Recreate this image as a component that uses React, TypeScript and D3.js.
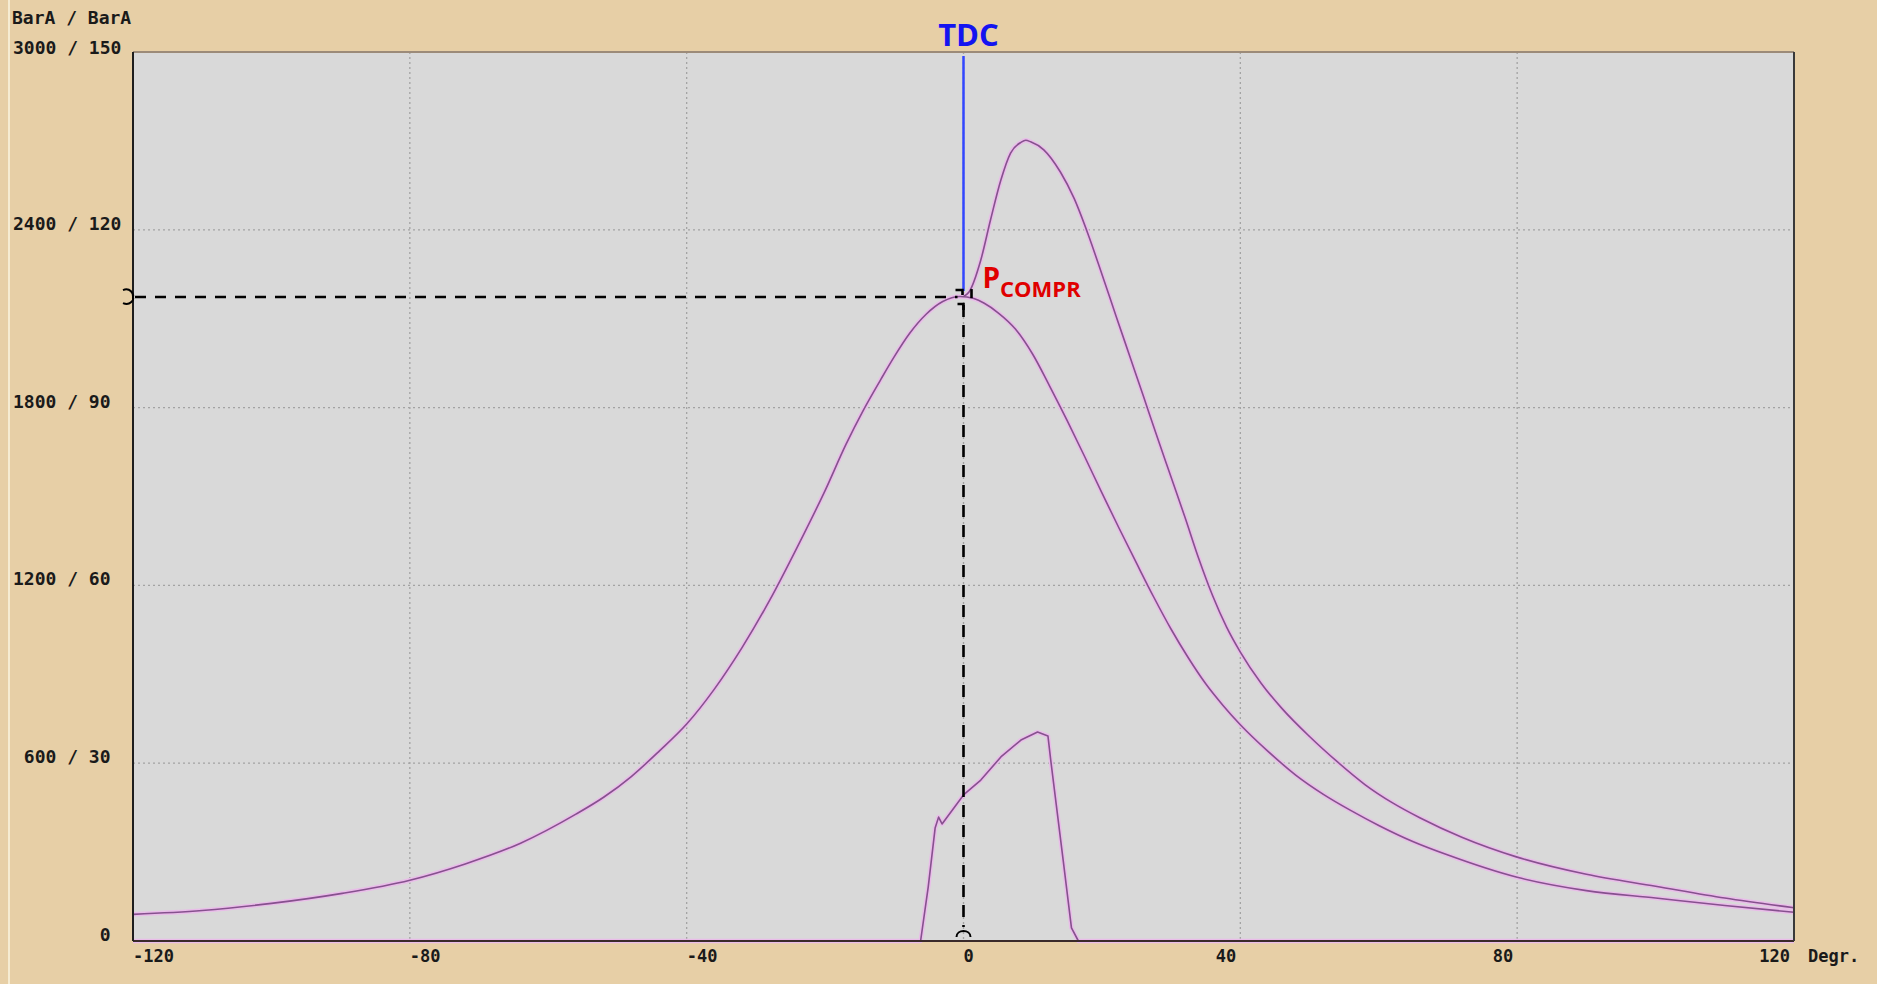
import React, { useRef, useEffect } from 'react';
import * as d3 from 'd3';

// crank angle ticks (degrees) and pressure ticks (bar)
const xTicks = [-120, -80, -40, 0, 40, 80, 120];
const xGrid = [-80, -40, 0, 40, 80];
const yTicks = [0, 600, 1200, 1800, 2400, 3000];
const yTickLabels = ['        0', ' 600 / 30', '1200 / 60', '1800 / 90', '2400 / 120', '3000 / 150'];

// compression (motored) pressure curve
const compression: [number, number][] = [
  [-120, 90], [-110, 103], [-100, 127], [-90, 160], [-80, 205], [-72, 260], [-64, 330],
  [-56, 428], [-52, 485], [-48, 555], [-44, 640], [-40, 732], [-36, 850], [-32, 990],
  [-28, 1150], [-24, 1330], [-20, 1520], [-17, 1675], [-14.5, 1790], [-12, 1893], [-10, 1972],
  [-7.8, 2050], [-5.4, 2115], [-3, 2158], [-0.5, 2175], [1.5, 2168], [3, 2152], [5, 2120],
  [7.5, 2065], [10, 1980], [12.5, 1870], [15, 1755], [17.5, 1635], [20, 1512], [22.5, 1392],
  [25, 1275], [27.5, 1160], [30, 1052], [32.5, 955], [35, 868], [37.5, 795], [40, 730],
  [44, 640], [48, 560], [52, 495], [56, 440], [60, 390], [65, 335], [70, 290], [80, 215],
  [90, 170], [100, 145], [110, 120], [120, 97],
];

// firing pressure curve (leaves compression at TDC)
const firing: [number, number][] = [
  [0, 2175], [0.8, 2190], [2.5, 2298], [3.9, 2433], [5.4, 2568], [6.8, 2659], [8.3, 2695],
  [9, 2702], [9.7, 2697], [11.6, 2670], [14, 2595], [16, 2505], [18, 2385], [20, 2250],
  [22, 2112], [24, 1975], [26, 1838], [28, 1700], [30, 1565], [32, 1430], [34, 1290],
  [36, 1165], [38, 1060], [40, 975], [43, 870], [46, 785], [50, 690], [54, 605], [58, 528],
  [62, 466], [66, 415], [72, 350], [80, 283], [90, 225], [100, 185], [110, 145], [120, 112],
];

// small trace near TDC
const injection: [number, number][] = [
  [-120, 0], [-6.2, 0], [-5.1, 182], [-4.1, 381], [-3.6, 418], [-3.1, 395], [0, 493],
  [2.5, 543], [5.4, 621], [8.3, 678], [10.7, 705], [12.2, 692], [12.6, 611], [14.4, 273],
  [15.6, 44], [16.6, 0], [120, 0],
];

const pCompr = 2173;

function App() {
  const ref = useRef<SVGSVGElement>(null);

  useEffect(() => {
    const W = 1877;
    const H = 984;
    const left = 133, right = 1794, top = 52, bottom = 941;
    const mono = '"DejaVu Sans Mono", monospace';
    const sans = '"Open Sans", "Noto Sans", sans-serif';

    const svg = d3.select(ref.current);
    svg.selectAll('*').remove();
    svg.attr('width', W).attr('height', H);

    svg.append('rect').attr('width', W).attr('height', H).attr('fill', '#e7cfa6');
    svg.append('rect').attr('x', 8).attr('y', 0).attr('width', 2).attr('height', H).attr('fill', '#f6ecd2');

    const x = d3.scaleLinear().domain([-120, 120]).range([left, right]);
    const y = d3.scaleLinear().domain([0, 3000]).range([bottom, top]);

    svg.append('rect')
      .attr('x', left).attr('y', top)
      .attr('width', right - left).attr('height', bottom - top)
      .attr('fill', '#d9d9d9');

    // grid
    const grid = svg.append('g').attr('stroke', '#a3a3a3').attr('stroke-width', 1.3).attr('stroke-dasharray', '2,3');
    grid.selectAll('.gy').data(yTicks.slice(1, -1)).enter().append('line')
      .attr('x1', left).attr('x2', right)
      .attr('y1', d => y(d)).attr('y2', d => y(d));
    grid.selectAll('.gx').data(xGrid).enter().append('line')
      .attr('x1', d => x(d)).attr('x2', d => x(d))
      .attr('y1', top).attr('y2', bottom);

    // curves
    const smooth = d3.line<[number, number]>().x(d => x(d[0])).y(d => y(d[1])).curve(d3.curveMonotoneX);
    const straight = d3.line<[number, number]>().x(d => x(d[0])).y(d => y(d[1]));
    const series: [[number, number][], any][] = [
      [injection, straight], [compression, smooth], [firing, smooth],
    ];
    series.forEach(([s, ln]) => {
      svg.append('path').datum(s).attr('d', ln).attr('fill', 'none')
        .attr('stroke', '#e9bde9').attr('stroke-width', 4.5).attr('stroke-linejoin', 'round');
    });
    series.forEach(([s, ln]) => {
      svg.append('path').datum(s).attr('d', ln).attr('fill', 'none')
        .attr('stroke', '#86508e').attr('stroke-width', 1.6).attr('stroke-linejoin', 'round');
    });

    // frame
    svg.append('line').attr('x1', left).attr('x2', right).attr('y1', top).attr('y2', top)
      .attr('stroke', '#9c8b79').attr('stroke-width', 2);
    svg.append('line').attr('x1', left).attr('x2', right).attr('y1', bottom).attr('y2', bottom)
      .attr('stroke', '#3a2a2a').attr('stroke-width', 2);
    svg.append('line').attr('x1', left).attr('x2', left).attr('y1', top).attr('y2', bottom)
      .attr('stroke', '#1e1e1e').attr('stroke-width', 2);
    svg.append('line').attr('x1', right).attr('x2', right).attr('y1', top).attr('y2', bottom)
      .attr('stroke', '#3a3a3a').attr('stroke-width', 2);

    // TDC marker
    const px = x(0);
    const py = y(pCompr);
    svg.append('line').attr('x1', px).attr('x2', px).attr('y1', top + 4).attr('y2', py - 6)
      .attr('stroke', '#3347ff').attr('stroke-width', 2.5);
    svg.append('text').attr('x', px + 5).attr('y', 46).attr('text-anchor', 'middle')
      .attr('font-family', sans).attr('font-weight', 700).attr('font-size', 31)
      .attr('fill', '#1414f0').text('TDC');

    // dashed reading lines
    const dash = svg.append('g').attr('stroke', '#000').attr('stroke-width', 2.6).attr('fill', 'none');
    dash.append('line').attr('x1', left + 2).attr('x2', px - 6).attr('y1', py).attr('y2', py)
      .attr('stroke-dasharray', '11,9');
    dash.append('line').attr('x1', px).attr('x2', px).attr('y1', py + 8).attr('y2', bottom - 14)
      .attr('stroke-dasharray', '12,8');
    dash.append('path').attr('d', `M${px - 8},${py - 7} H${px - 1} V${py - 2}`);
    dash.append('path').attr('d', `M${px + 8},${py - 8} V${py + 1}`);
    dash.append('path').attr('d', `M${px - 6},${py + 7} H${px} V${py + 13}`);
    // end brackets
    dash.append('path').attr('stroke-width', 2)
      .attr('d', `M${left - 10},${py - 7} C${left - 3},${py - 10} ${left + 1},${py - 3} ${left},${py} C${left + 1},${py + 3} ${left - 3},${py + 9} ${left - 10},${py + 6}`);
    dash.append('path').attr('stroke-width', 2)
      .attr('d', `M${px - 7},${bottom - 4} C${px - 7},${bottom - 12} ${px + 7},${bottom - 12} ${px + 7},${bottom - 4}`);

    // P_COMPR label
    const pl = svg.append('text').attr('x', px + 19).attr('y', py - 9)
      .attr('font-family', sans).attr('font-weight', 700).attr('fill', '#e00000');
    pl.append('tspan').attr('font-size', 28).text('P');
    pl.append('tspan').attr('font-size', 22).attr('dy', 9).text('COMPR');

    // y labels
    svg.append('text').attr('x', 12).attr('y', 24)
      .attr('font-family', mono).attr('font-weight', 700).attr('font-size', 18)
      .attr('fill', '#1a1a1a').style('white-space', 'pre').text('BarA / BarA');
    svg.selectAll('.yl').data(yTicks).enter().append('text')
      .attr('x', 13).attr('y', d => y(d) + (d === 3000 ? 2 : 0))
      .attr('font-family', mono).attr('font-weight', 700).attr('font-size', 18)
      .attr('fill', '#1a1a1a').style('white-space', 'pre')
      .text((d, i) => yTickLabels[i]);

    // x labels
    svg.selectAll('.xl').data(xTicks).enter().append('text')
      .attr('x', d => (d > 0 ? x(d) - 4 : x(d)))
      .attr('y', 962)
      .attr('text-anchor', d => (d > 0 ? 'end' : 'start'))
      .attr('font-family', mono).attr('font-weight', 700).attr('font-size', 17)
      .attr('fill', '#1a1a1a')
      .text(d => String(d));
    svg.append('text').attr('x', 1808).attr('y', 962)
      .attr('font-family', mono).attr('font-weight', 700).attr('font-size', 17)
      .attr('fill', '#1a1a1a').text('Degr.');
  }, []);

  return (
    <svg ref={ref} style={{ position: 'absolute', left: 0, top: 0, display: 'block' }}></svg>
  );
}

export default App;
